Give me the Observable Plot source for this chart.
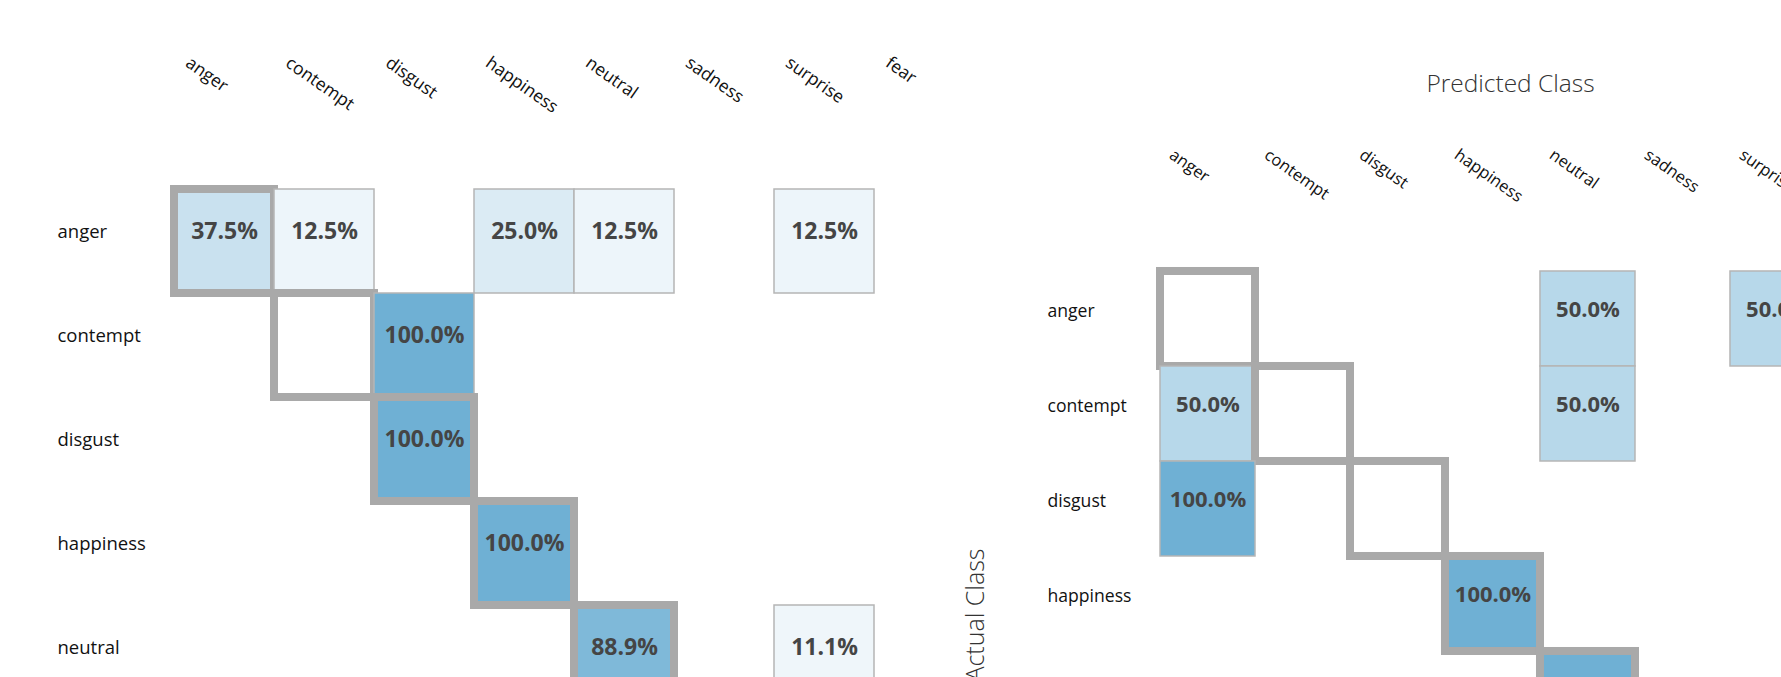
<!DOCTYPE html>
<html><head><meta charset="utf-8">
<script src="https://cdn.jsdelivr.net/npm/d3@7"></script>
<script src="https://cdn.jsdelivr.net/npm/@observablehq/plot@0.6"></script>
<style>
html,body{margin:0;padding:0;background:#fff;overflow:hidden;width:1781px;height:677px;position:relative;}
#left{position:absolute;left:0;top:0;width:1000px;}
#right{position:absolute;left:900px;top:0;width:1100px;}
svg{overflow:visible;max-width:none !important;}
</style></head><body>
<div id="left"></div><div id="right"></div>
<script>
// class labels (columns = predicted, rows = actual)
const classes = ["anger","contempt","disgust","happiness","neutral","sadness","surprise","fear"];
const visibleRows = ["anger","contempt","disgust","happiness","neutral"];

// left confusion matrix (visible part)
const leftActual    = ["anger","anger","anger","anger","anger","contempt","disgust","happiness","neutral","neutral"];
const leftPredicted = ["anger","contempt","happiness","neutral","surprise","disgust","disgust","happiness","neutral","surprise"];
const leftPercent   = [37.5, 12.5, 25.0, 12.5, 12.5, 100.0, 100.0, 100.0, 88.9, 11.1];

// right confusion matrix (visible part)
const rightActual    = ["anger","anger","contempt","contempt","disgust","happiness","neutral"];
const rightPredicted = ["neutral","surprise","anger","neutral","anger","happiness","neutral"];
const rightPercent   = [50.0, 50.0, 50.0, 50.0, 100.0, 100.0, 100.0];

const titleText = "Predicted Class";
const yTitleText = "Actual Class";

function matrix(o) {
  const data = o.actual.map((a, i) => ({actual: a, predicted: o.predicted[i], pct: o.percent[i]}));
  const idx = c => classes.indexOf(c);
  const cellOpts = {x: "predicted", y: "actual", fill: "pct", stroke: "#b5b5b5", strokeWidth: 1.5, inset: 0};
  const marks = [];
  for (const r of visibleRows) {
    const ri = idx(r);
    marks.push(Plot.cell(data.filter(d => d.actual === r && idx(d.predicted) <= ri), cellOpts));
    marks.push(Plot.cell([{actual: r, predicted: r}], {x: "predicted", y: "actual", fill: "none", stroke: "#a9a9a9", strokeWidth: 8, inset: 0}));
    marks.push(Plot.cell(data.filter(d => d.actual === r && idx(d.predicted) > ri), cellOpts));
  }
  marks.push(Plot.text(data, {x: "predicted", y: "actual", text: d => d.pct.toFixed(1) + "%",
    fontWeight: 700, fontSize: o.valueSize, fill: "#454545", lineAnchor: "middle", dy: o.valueDy}));
  marks.push(Plot.text(classes, {x: d => d, frameAnchor: "top", rotate: 35, textAnchor: "start", lineAnchor: "middle",
    fontSize: o.colSize, fill: "#111", dx: o.colDx, dy: o.colDy}));
  marks.push(Plot.text(visibleRows, {y: d => d, frameAnchor: "left", textAnchor: "start", lineAnchor: "middle",
    fontSize: o.rowSize, fill: "#111", dx: o.rowDx, dy: o.rowDy}));
  if (o.titles) {
    marks.push(Plot.text([titleText], {frameAnchor: "top", textAnchor: "middle", lineAnchor: "middle", fontSize: 24.5,
      fontWeight: 300, fill: "#333", dx: o.titleDx, dy: o.titleDy}));
    marks.push(Plot.text([yTitleText], {frameAnchor: "left", rotate: -90, textAnchor: "end", lineAnchor: "middle", fontSize: 25,
      fontWeight: 300, fill: "#333", dx: o.yTitleDx, dy: o.yTitleDy}));
  }
  return Plot.plot({
    width: o.marginLeft + 8 * o.colW + 10,
    height: o.marginTop + 8 * o.rowH + 10,
    marginLeft: o.marginLeft, marginTop: o.marginTop, marginRight: 10, marginBottom: 10,
    style: {fontFamily: "'Open Sans', 'Noto Sans', sans-serif", background: "transparent", maxWidth: "none"},
    x: {domain: classes, padding: 0, axis: null},
    y: {domain: classes, padding: 0, axis: null},
    color: {type: "linear", domain: [0, 100], range: ["#ffffff", "#6fb0d4"], interpolate: "rgb"},
    marks
  });
}

document.getElementById("left").append(matrix({
  actual: leftActual, predicted: leftPredicted, percent: leftPercent,
  marginLeft: 174, marginTop: 186.5, colW: 100, rowH: 104.5,
  valueSize: 23, valueDy: -9.8,
  colSize: 17.5, colDx: -36.8, colDy: -126,
  rowSize: 18.5, rowDx: -117, rowDy: -9.6,
  titles: false
}));

document.getElementById("right").append(matrix({
  actual: rightActual, predicted: rightPredicted, percent: rightPercent,
  marginLeft: 259, marginTop: 269, colW: 95.3, rowH: 95.5,
  valueSize: 22, valueDy: -9,
  colSize: 16.5, colDx: -36.6, colDy: -116.3,
  rowSize: 17.6, rowDx: -112, rowDy: -7.9,
  titles: true, titleDx: -30.2, titleDy: -185, yTitleDx: -184, yTitleDy: -103
}));
</script>
</body></html>
